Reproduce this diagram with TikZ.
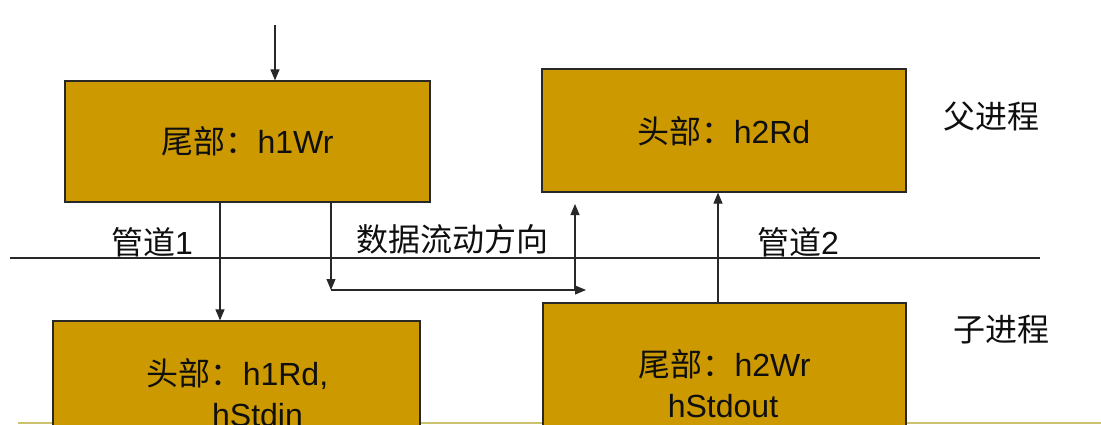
\documentclass[tikz,border=0pt]{standalone}
\usepackage{fontspec}
\setmainfont{Liberation Sans}
\newfontfamily\cjk{Noto Sans CJK SC}
\usetikzlibrary{arrows.meta}
\definecolor{boxfill}{RGB}{204,153,0}
\definecolor{linegray}{RGB}{40,40,40}
\definecolor{slideolive}{RGB}{204,194,110}
\definecolor{txt}{RGB}{15,15,15}
\begin{document}
\begin{tikzpicture}[x=1pt,y=-1pt,
  box/.style={draw=linegray, fill=boxfill, line width=1.2pt, inner sep=0pt},
  arr/.style={draw=linegray, line width=1.1pt, -{Triangle[length=11pt,width=9pt]}},
  ln/.style={draw=linegray, line width=1.1pt},
  lbl/.style={font=\fontsize{32}{38}\selectfont, text=txt, anchor=base, inner sep=0pt}]
\useasboundingbox (0,0) rectangle (1101,424);
% slide bottom line
\coordinate (sl) at (18,422.5);
\coordinate (sr) at (1101,422.5);
\draw[slideolive, line width=2pt] (sl) -- (sr);
% boxes
\node[box, minimum width=365pt, minimum height=121pt] (A) at (247.5,141.5) {};
\node[box, minimum width=364pt, minimum height=123pt] (B) at (724,130.5) {};
\node[box, minimum width=367pt, minimum height=130pt] (C) at (236.5,386) {};
\node[box, minimum width=363pt, minimum height=140pt] (D) at (724.5,373) {};
% box texts
\node[lbl] (At) at (247.5,153) {{\cjk 尾部：}h1Wr};
\node[lbl] (Bt) at (724,143) {{\cjk 头部：}h2Rd};
\node[lbl] (Ct1) at (237.5,385) {{\cjk 头部：}h1Rd,};
\node[lbl] (Ct2) at (257.5,426) {hStdin};
\node[lbl] (Dt1) at (724.5,376) {{\cjk 尾部：}h2Wr};
\node[lbl] (Dt2) at (723,417) {hStdout};
% separator
\coordinate (hl) at (10,258);
\coordinate (hr) at (1040,258);
\draw[ln] (hl) -- (hr);
% labels
\node[lbl] (p1) at (152,254) {{\cjk 管道}1};
\node[lbl] (flow) at (452,251) {\cjk 数据流动方向};
\node[lbl] (p2) at (798,254) {{\cjk 管道}2};
\node[lbl] (parent) at (991,128) {\cjk 父进程};
\node[lbl] (child) at (1001,341) {\cjk 子进程};
% connectors
\coordinate (in) at (275,25);
\draw[arr] (in) -- (in |- A.north);
\coordinate (x1) at (220,0);
\draw[arr] (x1 |- A.south) -- (x1 |- C.north);
\coordinate (f1) at (331,290);
\coordinate (f2) at (586,290);
\coordinate (f3) at (575,290);
\coordinate (f4) at (575,204);
\draw[arr] (f1 |- A.south) -- (f1);
\draw[arr] (f1) -- (f2);
\draw[arr] (f3) -- (f4);
\coordinate (x2) at (718,0);
\draw[arr] (x2 |- D.north) -- (x2 |- B.south);
\end{tikzpicture}
\end{document}
